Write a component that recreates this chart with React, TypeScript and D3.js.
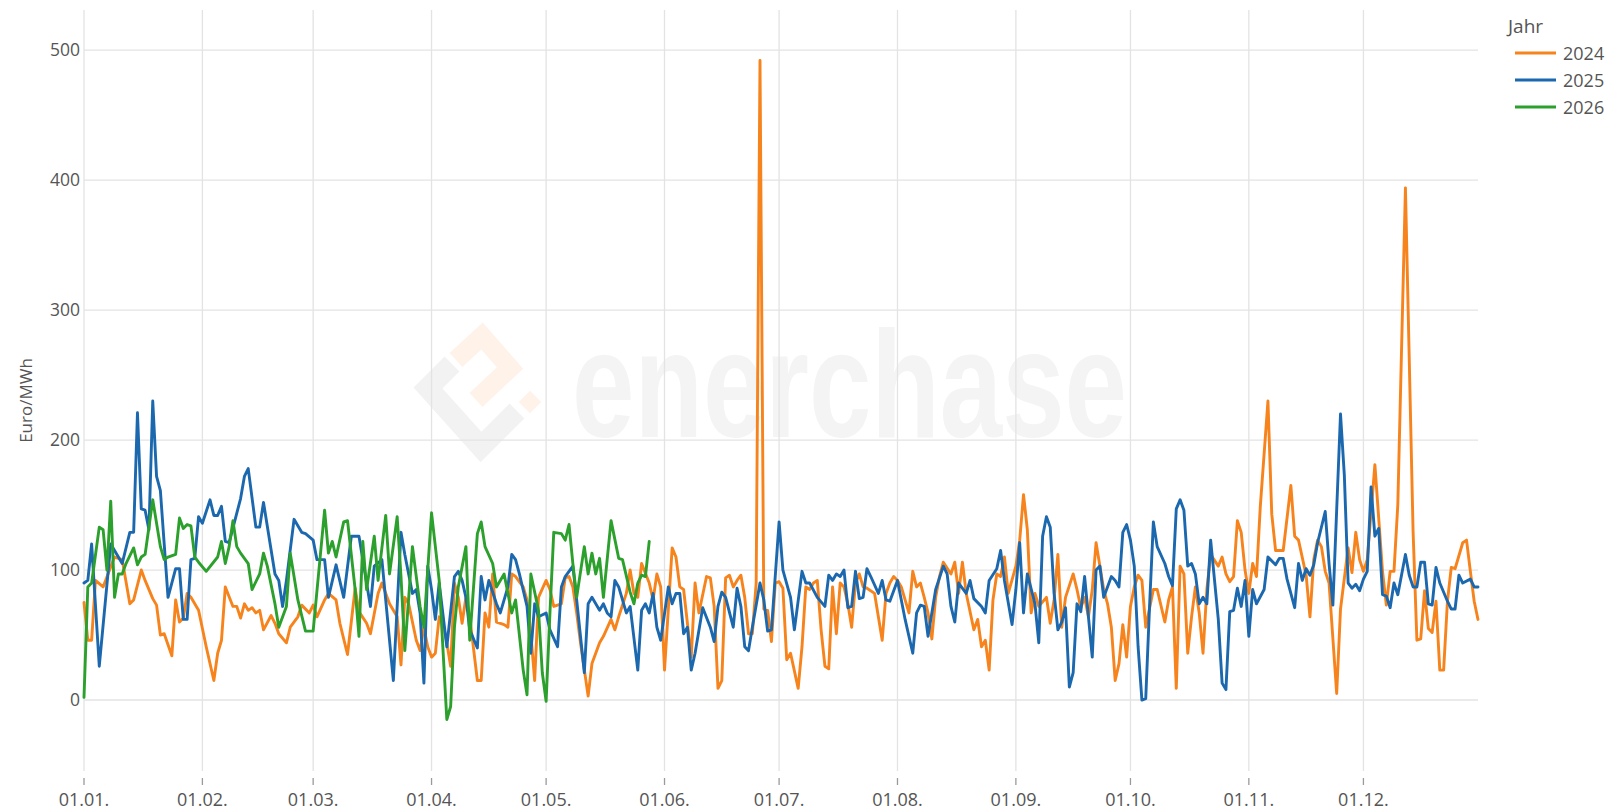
import React from "react";
import * as d3 from "d3";

// Daily day-ahead prices, Euro/MWh, indexed by day of year (0 = 1 January).
const price2024: [number, number][] = [
  [0,75],[1,46],[2,46],[3,92],[5,87],[8,110],[10,108],[12,74],[13,77],[15,100],[16,92],[18,78],[19,73],[20,50],[21,51],[23,34],[24,77],[25,60],[26,63],[27,82],[28,79],[30,69],[32,41],[34,15],[35,36],[36,46],[37,87],[39,72],[40,72],[41,63],[42,74],[43,69],[44,71],[45,67],[46,69],[47,54],[49,65],[50,59],[51,51],[53,44],[54,56],[56,64],[57,73],[59,67],[60,73],[61,64],[63,77],[64,82],[66,77],[67,59],[69,35],[71,86],[72,68],[74,59],[75,51],[77,82],[78,90],[80,74],[82,64],[83,27],[84,79],[85,74],[87,46],[88,38],[89,56],[90,41],[91,33],[92,36],[93,64],[94,59],[95,44],[96,26],[97,90],[98,79],[99,59],[100,79],[101,64],[103,15],[104,15],[105,67],[106,56],[107,97],[108,60],[110,58],[111,56],[112,97],[113,95],[115,87],[116,77],[117,51],[118,15],[119,79],[121,92],[122,85],[123,72],[125,74],[126,94],[127,95],[128,87],[129,67],[130,44],[132,3],[133,28],[135,44],[136,49],[138,62],[139,54],[140,64],[142,82],[143,100],[144,82],[145,79],[146,105],[148,90],[149,77],[150,97],[151,87],[152,23],[154,117],[155,110],[156,87],[157,85],[159,33],[160,90],[161,67],[163,95],[164,94],[165,72],[166,9],[167,15],[168,94],[169,96],[170,87],[171,92],[172,96],[173,79],[174,51],[175,51],[176,90],[177,492],[178,70],[179,69],[180,45],[181,90],[182,91],[183,86],[184,31],[185,36],[187,9],[188,41],[189,87],[190,85],[191,90],[192,92],[193,54],[194,26],[195,24],[196,87],[197,51],[198,90],[199,87],[200,74],[201,56],[202,90],[203,97],[204,87],[205,86],[207,82],[209,46],[210,82],[211,90],[212,95],[213,92],[214,87],[216,67],[217,99],[218,87],[219,90],[220,79],[221,67],[222,47],[223,79],[224,95],[225,106],[227,97],[228,106],[229,82],[230,106],[231,82],[233,54],[234,62],[235,41],[236,46],[237,23],[238,77],[239,97],[240,95],[241,110],[242,82],[244,103],[245,123],[246,158],[247,131],[248,67],[249,82],[250,72],[252,79],[253,59],[254,77],[255,112],[256,56],[257,79],[259,97],[260,85],[261,71],[262,79],[263,64],[264,85],[265,121],[266,103],[267,85],[268,74],[269,56],[270,15],[271,28],[272,58],[273,33],[274,72],[275,87],[276,96],[277,92],[278,56],[280,85],[281,85],[283,60],[284,77],[285,87],[286,9],[287,103],[288,97],[289,36],[290,64],[291,87],[292,67],[293,36],[294,85],[295,112],[297,103],[298,110],[299,97],[300,91],[301,95],[302,138],[303,129],[304,100],[305,82],[306,105],[307,95],[308,149],[310,230],[311,143],[312,115],[313,115],[314,115],[316,165],[317,126],[318,123],[320,96],[321,64],[322,108],[323,123],[324,118],[325,99],[326,90],[328,5],[329,70],[331,117],[332,98],[333,129],[334,108],[335,99],[336,108],[338,181],[339,140],[340,99],[341,73],[342,99],[343,99],[344,150],[346,394],[348,130],[349,46],[350,47],[351,84],[352,55],[353,52],[354,76],[355,23],[356,23],[357,76],[358,102],[359,101],[360,111],[361,121],[362,123],[363,99],[364,76],[365,62],
];

const price2025: [number, number][] = [
  [0,90],[1,92],[2,120],[4,26],[7,120],[10,105],[12,129],[13,129],[14,221],[15,147],[16,146],[17,131],[18,230],[19,172],[20,161],[22,79],[24,101],[25,101],[26,62],[27,62],[28,108],[29,109],[30,141],[31,136],[33,154],[34,142],[35,142],[36,149],[37,122],[38,121],[41,155],[42,172],[43,178],[45,133],[46,133],[47,152],[50,97],[51,92],[52,72],[53,92],[55,139],[57,129],[58,128],[60,123],[61,108],[63,108],[64,79],[66,104],[68,79],[70,126],[72,126],[75,72],[76,103],[78,108],[81,15],[83,129],[84,112],[86,82],[87,85],[88,67],[89,13],[90,103],[91,85],[92,62],[93,90],[95,41],[97,95],[98,99],[99,92],[100,79],[101,54],[103,40],[104,95],[105,77],[106,92],[108,74],[109,67],[111,87],[112,112],[113,108],[114,97],[116,72],[117,36],[118,74],[119,64],[121,67],[122,54],[124,41],[125,87],[126,95],[128,103],[129,77],[131,21],[132,74],[133,79],[135,69],[136,74],[137,67],[138,64],[139,92],[140,87],[142,67],[143,72],[145,23],[146,69],[147,74],[148,67],[149,82],[150,56],[151,46],[153,87],[154,74],[155,82],[156,82],[157,51],[158,56],[159,23],[160,36],[162,71],[164,56],[165,45],[166,72],[167,83],[168,79],[170,56],[171,86],[172,72],[173,41],[174,38],[175,56],[177,90],[178,77],[179,53],[180,54],[182,137],[183,100],[185,79],[186,54],[188,99],[189,90],[190,90],[192,79],[194,72],[195,96],[196,92],[197,97],[198,95],[199,100],[200,71],[201,72],[202,99],[203,78],[204,79],[205,101],[206,95],[208,82],[209,92],[210,77],[211,76],[213,92],[215,62],[217,36],[218,67],[219,73],[220,72],[221,49],[223,85],[225,103],[226,97],[227,72],[228,60],[229,90],[231,82],[232,92],[233,78],[235,72],[236,67],[237,92],[239,101],[240,115],[241,92],[243,58],[244,85],[245,121],[246,67],[247,97],[249,74],[250,44],[251,126],[252,141],[253,133],[254,82],[255,54],[256,60],[257,71],[258,10],[259,21],[260,74],[261,68],[262,95],[264,33],[265,100],[266,103],[267,79],[269,95],[270,92],[271,87],[272,129],[273,135],[274,123],[275,103],[276,41],[277,0],[278,1],[279,72],[280,137],[281,118],[283,105],[284,95],[285,88],[286,147],[287,154],[288,146],[289,103],[290,105],[291,97],[292,74],[293,79],[294,74],[295,123],[297,62],[298,13],[299,8],[300,68],[301,69],[302,86],[303,72],[304,92],[305,49],[306,85],[307,74],[309,85],[310,110],[312,104],[313,109],[314,109],[315,93],[317,71],[318,105],[319,92],[320,101],[321,96],[322,104],[323,121],[325,145],[326,105],[327,73],[329,220],[330,173],[331,90],[332,86],[333,89],[334,84],[335,93],[336,99],[337,164],[338,126],[339,132],[340,81],[341,80],[342,71],[343,90],[344,81],[346,112],[347,96],[348,87],[349,87],[350,106],[351,106],[352,74],[353,73],[354,102],[355,90],[357,76],[358,70],[359,70],[360,96],[361,90],[363,93],[364,87],[365,87],
];

const price2026: [number, number][] = [
  [0,2],[1,87],[2,90],[4,133],[5,131],[6,100],[7,153],[8,79],[9,97],[10,97],[11,105],[13,117],[14,104],[15,110],[16,112],[18,154],[20,118],[21,108],[22,110],[24,112],[25,140],[26,132],[27,135],[28,134],[29,110],[30,106],[32,99],[35,110],[36,122],[37,105],[38,118],[39,138],[40,118],[41,113],[43,105],[44,85],[46,97],[47,113],[48,103],[50,74],[51,56],[53,72],[54,113],[56,77],[58,53],[60,53],[63,146],[64,113],[65,122],[66,110],[68,137],[69,138],[71,85],[72,49],[73,122],[74,85],[76,126],[77,92],[79,142],[80,97],[82,141],[83,95],[84,38],[86,118],[88,72],[89,56],[91,144],[93,92],[95,-15],[96,-5],[97,56],[98,87],[100,118],[101,46],[103,128],[104,137],[105,118],[107,105],[108,87],[110,97],[112,67],[113,77],[115,23],[116,4],[117,97],[119,69],[120,21],[121,-1],[122,67],[123,129],[125,128],[126,123],[127,135],[128,105],[129,79],[131,118],[132,97],[133,113],[134,97],[135,109],[136,79],[138,138],[140,109],[141,108],[143,83],[144,74],[145,90],[146,96],[147,95],[148,122],
];

const years = ["2024", "2025", "2026"];
const yearColors = ["#f7831c", "#1b68ae", "#2ca02c"];
const seriesByYear = [price2024, price2025, price2026];

const xTickLabels = ["01.01.", "01.02.", "01.03.", "01.04.", "01.05.", "01.06.", "01.07.", "01.08.", "01.09.", "01.10.", "01.11.", "01.12."];
const yTickValues = [0, 100, 200, 300, 400, 500];

const W = 1612;
const H = 810;
const plot = { left: 84, right: 1478, top: 10, bottom: 771 };

const refStart = Date.UTC(2024, 0, 1);
const dayToDate = (d: number) => d3.utcDay.offset(new Date(refStart), d);
const labelToDate = (s: string) => {
  const [dd, mm] = s.split(".").map(Number);
  return new Date(Date.UTC(2024, mm - 1, dd));
};

const x = d3
  .scaleUtc()
  .domain([new Date(refStart), new Date(Date.UTC(2024, 11, 31))])
  .range([plot.left, plot.right]);

const y = d3.scaleLinear().domain([-54.6, 530.8]).range([plot.bottom, plot.top]);

const line = d3
  .line<[number, number]>()
  .x((p) => x(dayToDate(p[0])))
  .y((p) => y(p[1]));

const font = "'Open Sans', 'Noto Sans', sans-serif";
const textColor = "#555";
const gridColor = "#e3e3e3";

function Watermark() {
  return (
    <g>
      {/* logo mark */}
      <path
        d="M452,364 L428,388 L481,447 L517,411"
        fill="none"
        stroke="#f2f2f2"
        strokeWidth={21}
        strokeLinejoin="miter"
      />
      <path
        d="M456,360 L482,336 L510,368 L476,400"
        fill="none"
        stroke="#fef2e9"
        strokeWidth={19}
        strokeLinejoin="miter"
      />
      <rect x={522} y={394} width={16} height={16} fill="#fef2e9" transform="rotate(45 530 402)" />
      <text
        x={572}
        y={437}
        fontFamily="'Liberation Sans', Arial, sans-serif"
        fontWeight={700}
        fontSize={152}
        textLength={555}
        lengthAdjust="spacingAndGlyphs"
        fill="#f4f4f4"
      >
        enerchase
      </text>
    </g>
  );
}

export default function App() {
  return (
    <svg
      width={W}
      height={H}
      style={{ position: "absolute", left: 0, top: 0, display: "block", background: "#fff" }}
    >
      <rect x={0} y={0} width={W} height={H} fill="#fff" />
      <Watermark />

      {/* grid */}
      {xTickLabels.map((lab) => {
        const px = x(labelToDate(lab));
        return (
          <g key={lab}>
            <line x1={px} x2={px} y1={plot.top} y2={plot.bottom} stroke={gridColor} strokeWidth={1.3} />
            <line x1={px} x2={px} y1={778} y2={785} stroke="#9a9a9a" strokeWidth={1.3} />
            <text x={px} y={806} textAnchor="middle" fontFamily={font} fontSize={18} fill={textColor}>
              {lab}
            </text>
          </g>
        );
      })}
      {yTickValues.map((v) => (
        <g key={v}>
          <line x1={plot.left} x2={plot.right} y1={y(v)} y2={y(v)} stroke={gridColor} strokeWidth={1.3} />
          <text x={80} y={y(v) + 6} textAnchor="end" fontFamily={font} fontSize={17.5} fill={textColor}>
            {v}
          </text>
        </g>
      ))}

      {/* axis title */}
      <text
        transform={`translate(32, ${(plot.top + plot.bottom) / 2 + 10}) rotate(-90)`}
        textAnchor="middle"
        fontFamily={font}
        fontSize={17}
        fill={textColor}
      >
        Euro/MWh
      </text>

      {/* series */}
      {seriesByYear.map((s, i) => (
        <path
          key={years[i]}
          d={line(s) ?? ""}
          fill="none"
          stroke={yearColors[i]}
          strokeWidth={2.9}
          strokeLinejoin="round"
          strokeLinecap="round"
        />
      ))}

      {/* legend */}
      <text x={1508} y={33} fontFamily={font} fontSize={19} fill={textColor}>
        Jahr
      </text>
      {years.map((yr, i) => {
        const cy = 53 + i * 27;
        return (
          <g key={yr}>
            <line x1={1515} x2={1556} y1={cy} y2={cy} stroke={yearColors[i]} strokeWidth={3} />
            <text x={1563} y={cy + 6.5} fontFamily={font} fontSize={18} fill={textColor}>
              {yr}
            </text>
          </g>
        );
      })}
    </svg>
  );
}
